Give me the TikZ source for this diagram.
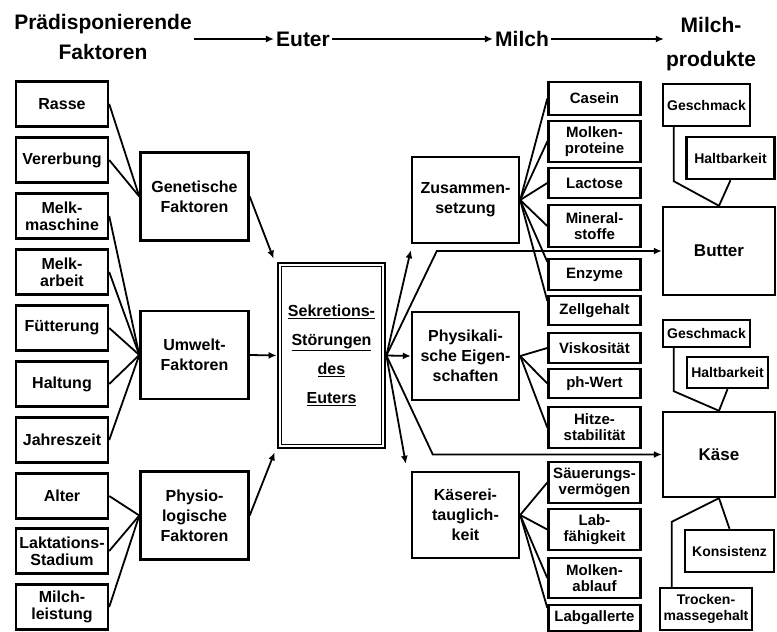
\documentclass[tikz,border=0pt]{standalone}
\usepackage{fontspec}
\setmainfont{Liberation Sans}
\usetikzlibrary{arrows.meta}

\begin{document}
\begin{tikzpicture}[x=1pt, y=-1pt,
    every node/.style={font=\bfseries},
    box/.style={draw, line width=2.4pt, align=center, inner sep=0pt},
    head/.style={align=center, inner sep=2pt, font=\bfseries\fontsize{21}{30}\selectfont},
    lbox/.style={box, minimum width=92pt, minimum height=45pt, font=\bfseries\fontsize{16}{17}\selectfont},
    mbox/.style={box, minimum width=108pt, minimum height=88pt, font=\bfseries\fontsize{16}{20}\selectfont},
    sbox/.style={box, minimum width=92pt, font=\bfseries\fontsize{15}{16}\selectfont},
    gbox/.style={box, font=\bfseries\fontsize{14}{16}\selectfont},
    pbox/.style={box, minimum width=112pt, font=\bfseries\fontsize{17}{20}\selectfont},
    link/.style={line width=1.8pt},
    arr/.style={link, -{Latex[length=8pt,width=7pt]}}]
    \useasboundingbox (0,0) rectangle (777,632);

    % header
    \node[head] (praed) at (103,37) {Prädisponierende\\Faktoren};
    \node[head] (euter) at (303,39) {Euter};
    \node[head] (milch) at (522,39) {Milch};
    \node[head] (produkte) at (711,44) {Milch-\\[4pt]produkte};
    \draw[arr] (praed.east |- euter.west) -- (euter.west);
    \draw[arr] (euter.east) -- (milch.west);
    \draw[arr] (milch.east) -- (milch.east -| produkte.west);

    % left column
    \node[lbox] (rasse) at (62,104) {Rasse};
    \node[lbox] (vererbung) at (62,160) {Vererbung};
    \node[lbox] (melkma) at (62,216) {Melk-\\maschine};
    \node[lbox] (melkar) at (62,272) {Melk-\\arbeit};
    \node[lbox] (fuetter) at (62,328) {Fütterung};
    \node[lbox] (haltung) at (62,384) {Haltung};
    \node[lbox] (jahres) at (62,440) {Jahreszeit};
    \node[lbox] (alter) at (62,496) {Alter};
    \node[lbox] (laktat) at (62,551) {Laktations-\\Stadium};
    \node[lbox] (leistung) at (62,607) {Milch-\\leistung};

    \node[mbox] (genetisch) at (194.5,196.5) {Genetische\\Faktoren};
    \node[mbox] (umwelt) at (194.5,355) {Umwelt-\\Faktoren};
    \node[mbox] (physio) at (194.5,515.5) {Physio-\\logische\\Faktoren};

    \draw[link] (rasse.east) -- (genetisch.west);
    \draw[link] (vererbung.east) -- (genetisch.west);
    \draw[link] (melkma.east) -- (umwelt.west);
    \draw[link] (melkar.east) -- (umwelt.west);
    \draw[link] (fuetter.east) -- (umwelt.west);
    \draw[link] (haltung.east) -- (umwelt.west);
    \draw[link] (jahres.east) -- (umwelt.west);
    \draw[link] (alter.east) -- (physio.west);
    \draw[link] (laktat.east) -- (physio.west);
    \draw[link] (leistung.east) -- (physio.west);

    % udder
    \node[box, line width=2.8pt, minimum width=107pt, minimum height=185pt,
        font=\bfseries\fontsize{16}{29}\selectfont] (sek) at (331.5,355.5)
        {\underline{Sekretions-}\\\underline{Störungen}\\\underline{des}\\\underline{Euters}};
    \draw[line width=1.3pt] ([shift={(5pt,-5pt)}]sek.north west) rectangle ([shift={(-5pt,5pt)}]sek.south east);

    \draw[arr] (genetisch.east) -- ([shift={(-3pt,3pt)}]sek.north west);
    \draw[arr] (umwelt.east) -- (sek.west);
    \draw[arr] (physio.east) -- ([shift={(-2pt,-3pt)}]sek.south west);

    % milk
    \node[mbox, minimum width=107pt, minimum height=86pt] (zusammen) at (465.5,200) {Zusammen-\\setzung};
    \node[mbox, minimum width=107pt] (physik) at (465.5,356) {Physikali-\\sche Eigen-\\schaften};
    \node[mbox, minimum width=107pt, minimum height=86pt] (kaeserei) at (465.5,515) {Käserei-\\tauglich-\\keit};

    \node[sbox, minimum height=33pt] (casein) at (594.5,98.5) {Casein};
    \node[sbox, minimum height=41pt] (molken) at (594.5,141.5) {Molken-\\proteine};
    \node[sbox, minimum height=30pt] (lactose) at (594.5,183) {Lactose};
    \node[sbox, minimum height=42pt] (mineral) at (594.5,226) {Mineral-\\stoffe};
    \node[sbox, minimum height=31pt] (enzyme) at (594.5,274.5) {Enzyme};
    \node[sbox, minimum height=29pt] (zell) at (594.5,310.5) {Zellgehalt};
    \node[sbox, minimum height=30pt] (visko) at (594.5,348) {Viskosität};
    \node[sbox, minimum height=29pt] (ph) at (594.5,383.5) {ph-Wert};
    \node[sbox, minimum height=41pt] (hitze) at (594.5,427.5) {Hitze-\\stabilität};
    \node[sbox, minimum height=41pt] (saeuer) at (594.5,482.5) {Säuerungs-\\vermögen};
    \node[sbox, minimum height=41pt] (labf) at (594.5,529.5) {Lab-\\fähigkeit};
    \node[sbox, minimum height=40pt] (molkab) at (594.5,578) {Molken-\\ablauf};
    \node[sbox, minimum height=26pt] (labgall) at (594.5,618) {Labgallerte};

    \draw[link] (zusammen.east) -- (casein.west);
    \draw[link] (zusammen.east) -- (molken.west);
    \draw[link] (zusammen.east) -- (lactose.west);
    \draw[link] (zusammen.east) -- (mineral.west);
    \draw[link] (zusammen.east) -- ([yshift=-4pt]enzyme.north west);
    \draw[link] (zusammen.east) -- ([yshift=-6pt]zell.north west);
    \draw[link] (physik.east) -- (visko.west);
    \draw[link] (physik.east) -- (ph.west);
    \draw[link] (physik.east) -- (hitze.west);
    \draw[link] (kaeserei.east) -- (saeuer.west);
    \draw[link] (kaeserei.east) -- (labf.west);
    \draw[link] (kaeserei.east) -- (molkab.west);
    \draw[link] (kaeserei.east) -- ([yshift=-4pt]labgall.north west);

    % milk products
    \node[pbox, minimum height=88pt] (butter) at (719,251) {Butter};
    \node[pbox, minimum height=85pt] (kaese) at (719,454.5) {Käse};
    \node[gbox, minimum width=87pt, minimum height=42pt] (gesch1) at (706.5,105) {Geschmack};
    \node[gbox, minimum width=88pt, minimum height=42pt] (halt1) at (730.5,158) {Haltbarkeit};
    \node[gbox, minimum width=87pt, minimum height=27pt] (gesch2) at (706.5,333.5) {Geschmack};
    \node[gbox, minimum width=81pt, minimum height=31pt] (halt2) at (727.5,372.5) {Haltbarkeit};
    \node[gbox, minimum width=89pt, minimum height=42pt] (konsist) at (729.5,551) {Konsistenz};
    \node[gbox, minimum width=92pt, minimum height=42pt] (trocken) at (706,609) {Trocken-\\massegehalt};

    \draw[arr] (sek.east) -- ([yshift=-6pt]zusammen.south west);
    \draw[arr] (sek.east) -- ([xshift=-225pt]butter.west) -- (butter.west);
    \draw[arr] (sek.east) -- (physik.west);
    \draw[arr] (sek.east) -- ([xshift=-229pt]kaese.west) -- (kaese.west);
    \draw[arr] (sek.east) -- ([shift={(-5pt,7pt)}]kaeserei.north west);

    \draw[link] ([xshift=12pt]gesch1.south west) -- ++(0,54) -- (butter.north);
    \draw[link] (halt1.south) -- (butter.north);
    \draw[link] ([xshift=12pt]gesch2.south west) -- ++(0,43) -- (kaese.north);
    \draw[link] (halt2.south) -- (kaese.north);
    \draw[link] (kaese.south) -- (konsist.north);
    \draw[link] (kaese.south) -- ([shift={(13pt,65pt)}]trocken.north west) -- ([xshift=13pt]trocken.north west);
\end{tikzpicture}
\end{document}
